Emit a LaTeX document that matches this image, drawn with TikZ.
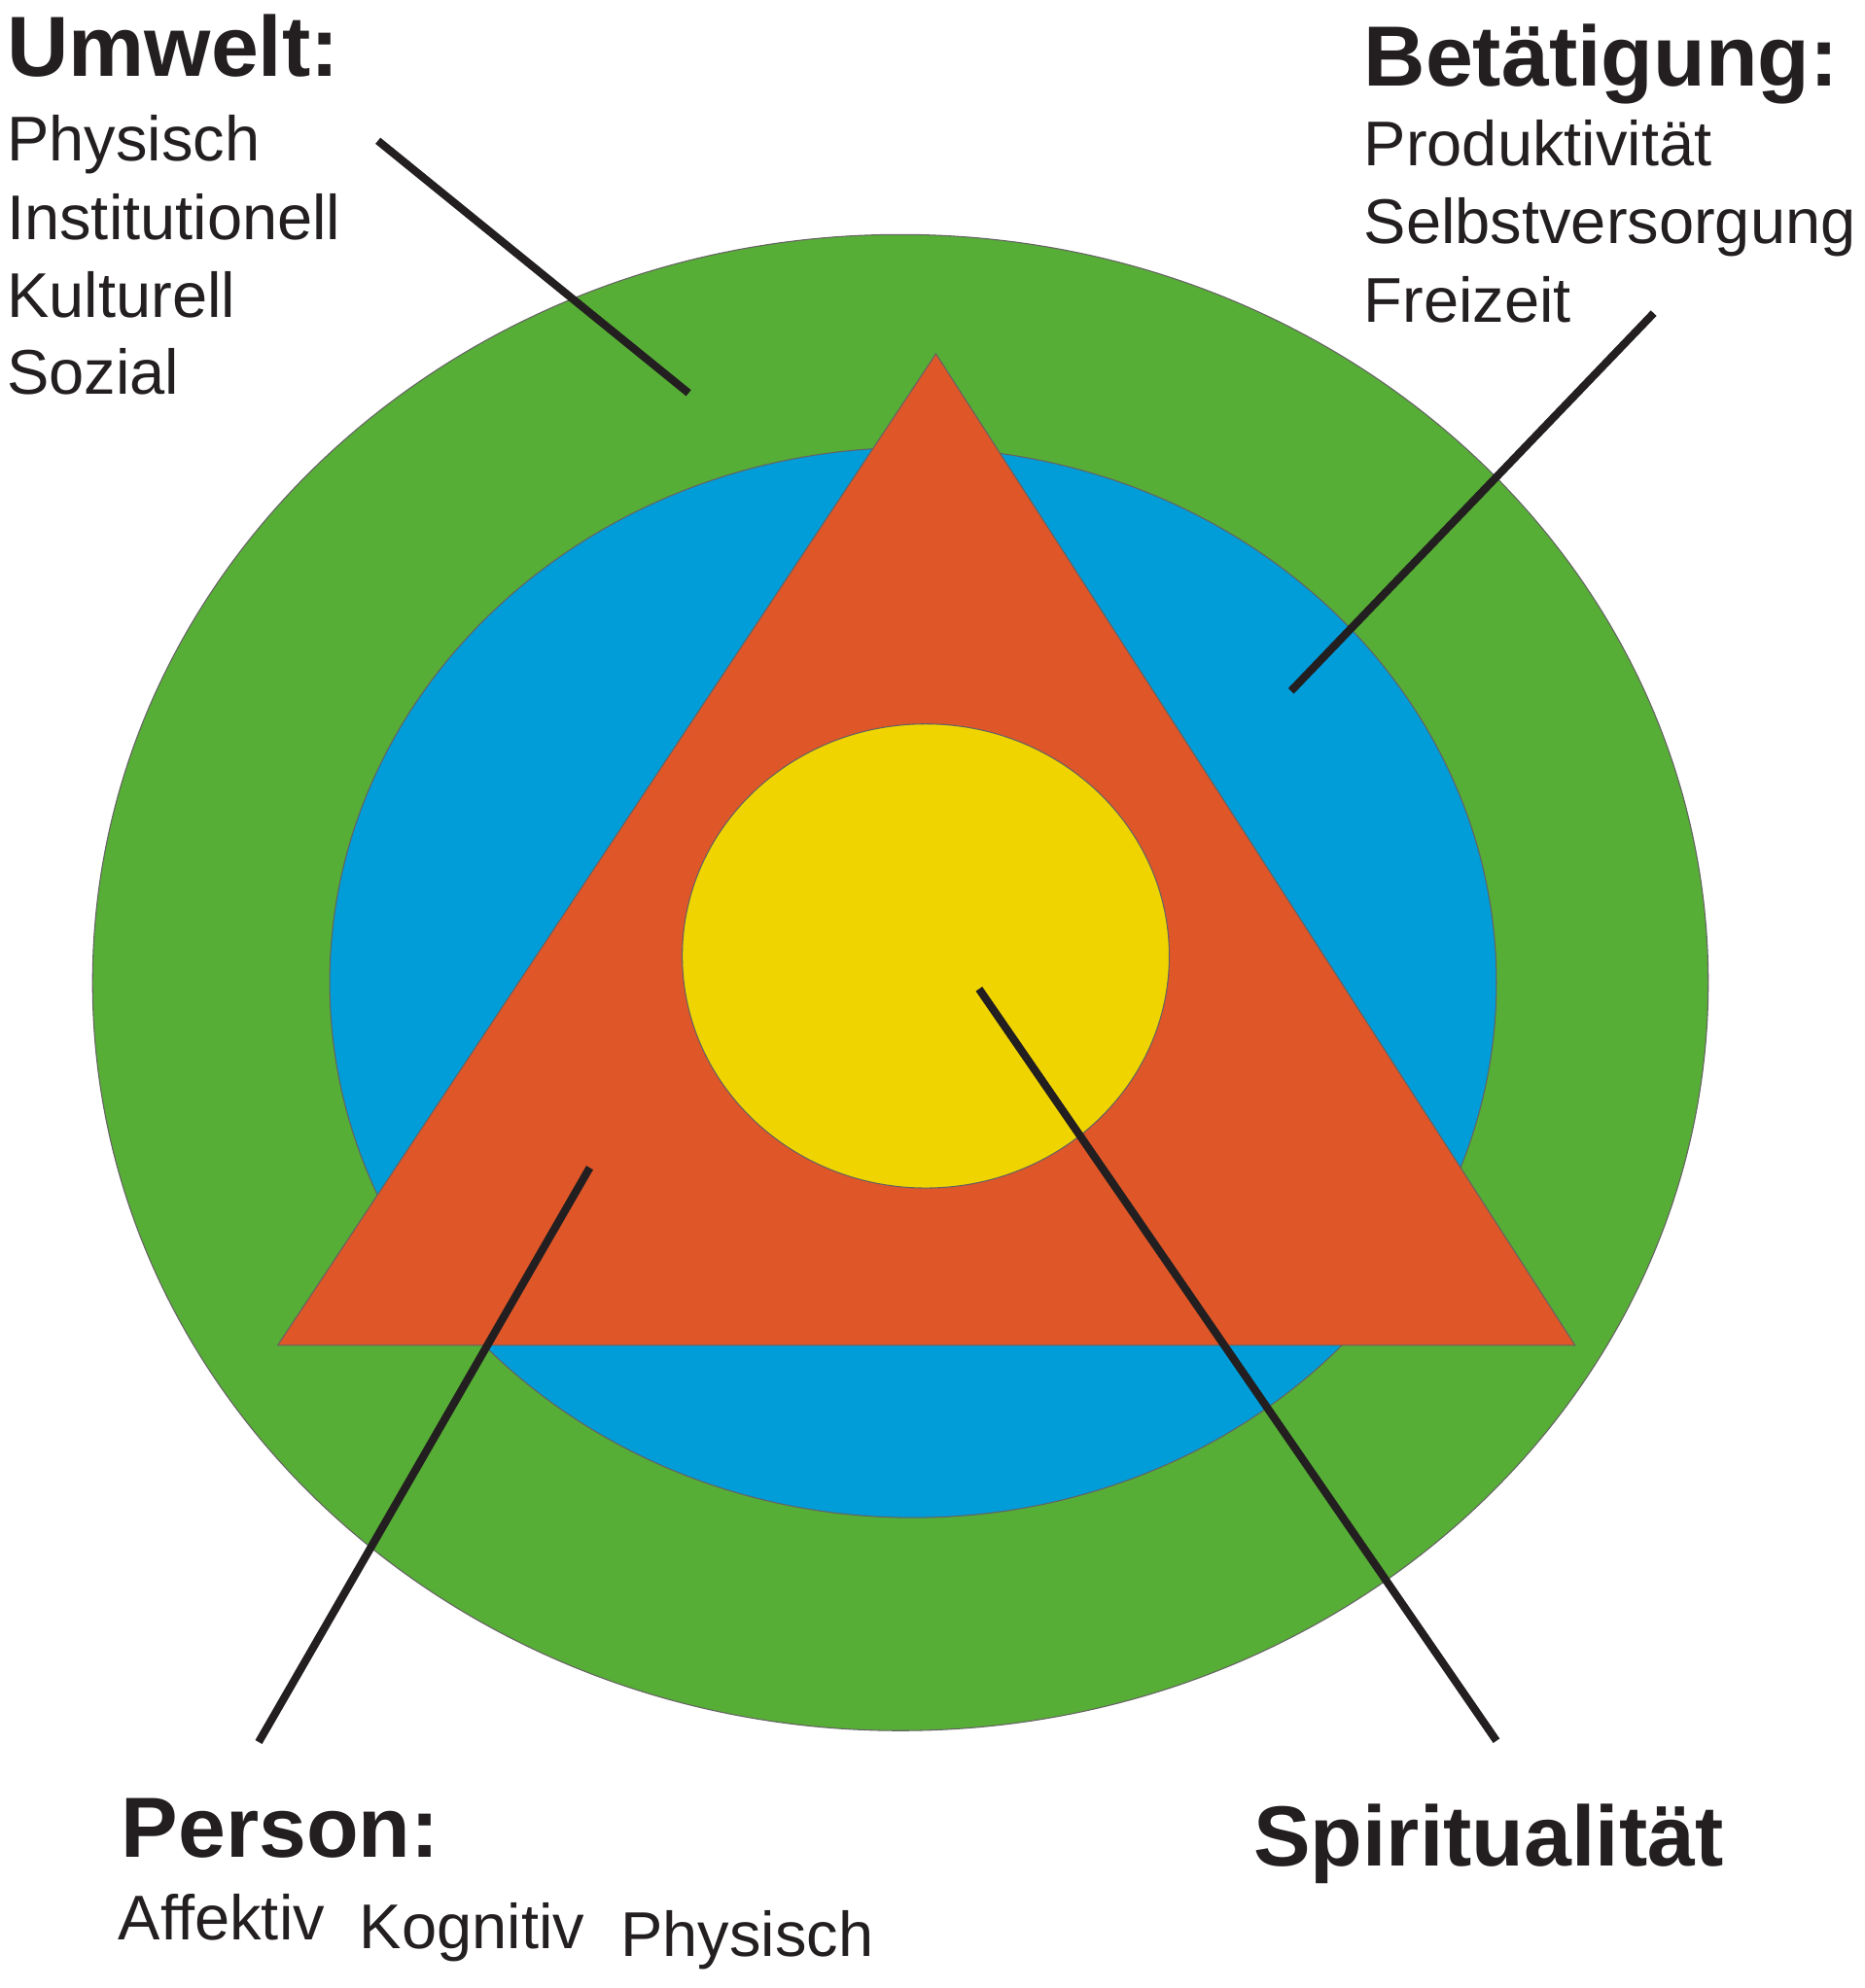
\documentclass[tikz,border=0pt]{standalone}
\usepackage{fontspec}
\setmainfont{Liberation Sans}
\definecolor{cgreen}{HTML}{57AE36}
\definecolor{cblue}{HTML}{009DD9}
\definecolor{cred}{HTML}{DF5628}
\definecolor{cyel}{HTML}{F0D400}
\definecolor{ink}{HTML}{231F20}
\begin{document}
\begin{tikzpicture}[x=0.01304cm,y=-0.01304cm,
  region/.style={draw=ink!70,line width=0.3pt},
  ptr/.style={draw=ink,line width=2.3pt},
  head/.style={anchor=base west,inner sep=0,font=\fontsize{25}{25}\selectfont\bfseries,text=ink},
  item/.style={anchor=base west,inner sep=0,font=\fontsize{18.5}{18.5}\selectfont,text=ink}]
\useasboundingbox (0,0) rectangle (1470,1568);
\fill[white] (0,0) rectangle (1470,1568);
\path[region,fill=cgreen] (710,775) ellipse [x radius=637,y radius=590];
\path[region,fill=cblue] (720,775) ellipse [x radius=460,y radius=422];
\path[region,fill=cred] (738,279) -- (1242,1061) -- (219,1061) -- cycle;
\path[region,fill=cyel] (730,754) ellipse [x radius=192,y radius=183];
\coordinate (u1) at (298,111); \coordinate (u2) at (543,310);
\coordinate (b1) at (1304,247); \coordinate (b2) at (1018,545);
\coordinate (p1) at (465,921); \coordinate (p2) at (204,1374);
\coordinate (s1) at (772,780); \coordinate (s2) at (1180,1373);
\draw[ptr] (u1) -- (u2);
\draw[ptr] (b1) -- (b2);
\draw[ptr] (p1) -- (p2);
\draw[ptr] (s1) -- (s2);
\node[head] (umw) at (5,60) {Umwelt:};
\node[item] (u_a) at (5,127) {Physisch};
\node[item] (u_b) at (5,189) {Institutionell};
\node[item] (u_c) at (5,250) {Kulturell};
\node[item] (u_d) at (5,311) {Sozial};
\node[head] (bet) at (1075,68) {Betätigung:};
\node[item] (b_a) at (1075,131) {Produktivität};
\node[item] (b_b) at (1075,192) {Selbstversorgung};
\node[item] (b_c) at (1075,254) {Freizeit};
\node[head] (per) at (95,1465) {Person:};
\node[item] (p_a) at (93,1530) {Affektiv};
\node[item] (p_b) at (283,1537) {Kognitiv};
\node[item] (p_c) at (489,1543) {Physisch};
\node[head] (spi) at (988,1472) {Spiritualität};
\end{tikzpicture}
\end{document}
